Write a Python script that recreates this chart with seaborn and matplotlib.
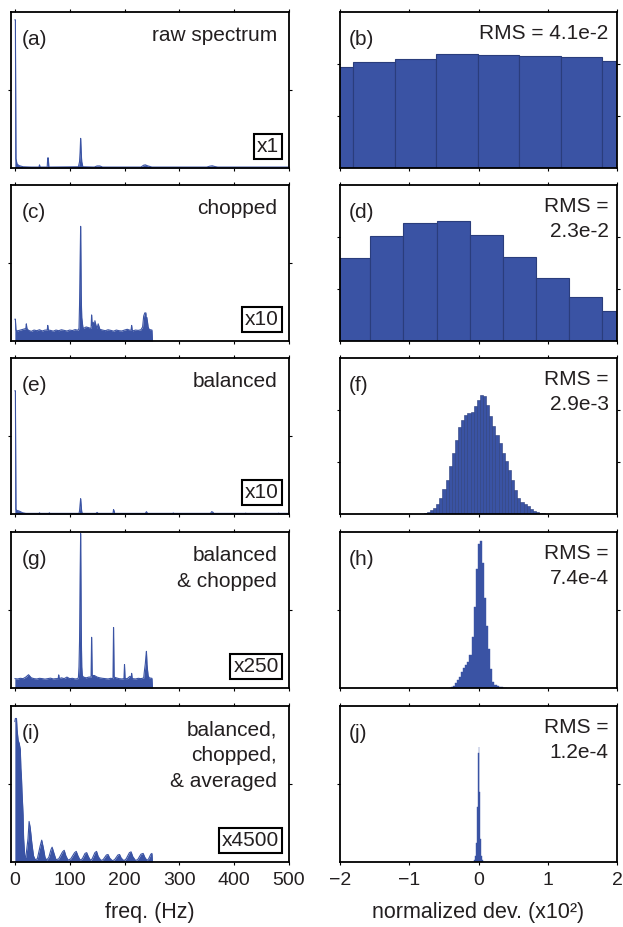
import numpy as np
import pandas as pd
import matplotlib
matplotlib.use("Agg")
import matplotlib.pyplot as plt
import seaborn as sns

BLUE = "#3a53a4"
EDGE = "#2a3d7c"
INK = "#231f20"

# ---- spectra (relative amplitude, 0..1 of panel height) ----
raw_freq = [0, 1, 2, 4, 8, 15, 30, 44, 45, 46, 59, 60, 61, 62, 116, 118, 119, 120, 121, 122, 124,
            145, 150, 155, 160, 230, 235, 238, 242, 250, 350, 356, 360, 364, 370, 500]
raw_amp = [0.95, 0.95, 0.06, 0.025, 0.015, 0.008, 0.006, 0.006, 0.02, 0.006, 0.006, 0.065, 0.065, 0.006,
           0.008, 0.04, 0.1, 0.19, 0.1, 0.04, 0.008, 0.006, 0.013, 0.013, 0.006, 0.006, 0.018, 0.02,
           0.014, 0.006, 0.006, 0.012, 0.014, 0.01, 0.006, 0.006]

bal_freq = [0, 1, 2, 4, 7, 10, 14, 20, 44, 45, 46, 62, 63, 64, 117, 118, 119, 120, 121, 122, 123,
            148, 150, 152, 179, 180, 181, 182, 238, 240, 242, 288, 289, 290, 357, 359, 361, 363,
            420, 421, 422, 480, 481, 482, 500]
bal_amp = [0.79, 0.79, 0.03, 0.022, 0.02, 0.015, 0.008, 0.004, 0.004, 0.008, 0.004, 0.004, 0.008, 0.004,
           0.004, 0.02, 0.06, 0.098, 0.05, 0.015, 0.004, 0.004, 0.01, 0.004, 0.004, 0.028, 0.02, 0.004,
           0.004, 0.015, 0.004, 0.004, 0.007, 0.004, 0.004, 0.015, 0.012, 0.004, 0.004, 0.006, 0.004,
           0.004, 0.006, 0.004, 0.004]

# noise floor of the chopped spectra, one value every 5 Hz from 0 to 250 Hz
floor_freq = list(range(0, 251, 5))
chop_floor = [0.07, 0.065, 0.07, 0.075, 0.08, 0.068, 0.062, 0.07, 0.066, 0.072,
              0.064, 0.07, 0.075, 0.068, 0.063, 0.07, 0.066, 0.072, 0.068, 0.064,
              0.07, 0.067, 0.073, 0.069, 0.075, 0.08, 0.09, 0.085, 0.1, 0.09,
              0.08, 0.075, 0.07, 0.066, 0.072, 0.068, 0.063, 0.07, 0.066, 0.064,
              0.07, 0.075, 0.069, 0.065, 0.07, 0.068, 0.072, 0.075, 0.08, 0.074,
              0.07]
chop_pk_freq = [0, 1, 2, 20, 21, 22, 59, 60, 61, 117, 118, 119, 120, 121, 122, 124,
                139, 140, 141, 143, 146, 148, 152, 212, 213, 214, 233, 235, 237, 239, 241, 243, 251]
chop_pk_amp = [0.14, 0.14, 0.07, 0.08, 0.11, 0.08, 0.07, 0.1, 0.07, 0.08, 0.23, 0.5, 0.735, 0.3, 0.15, 0.09,
               0.08, 0.167, 0.1, 0.12, 0.13, 0.1, 0.11, 0.07, 0.1, 0.07, 0.09, 0.16, 0.18, 0.18, 0.15, 0.09, 0.0]

bc_floor = [0.06, 0.058, 0.062, 0.06, 0.07, 0.085, 0.065, 0.06, 0.058, 0.062,
            0.06, 0.057, 0.06, 0.063, 0.058, 0.06, 0.075, 0.065, 0.06, 0.07,
            0.06, 0.062, 0.058, 0.06, 0.065, 0.07, 0.065, 0.07, 0.09, 0.08,
            0.07, 0.065, 0.062, 0.06, 0.058, 0.062, 0.06, 0.065, 0.06, 0.058,
            0.062, 0.06, 0.075, 0.06, 0.058, 0.062, 0.06, 0.064, 0.07, 0.065,
            0.062]
bc_pk_freq = [79, 80, 81, 116, 117, 118, 119, 120, 121, 122, 123, 139, 140, 141, 179, 180, 181,
              199, 200, 201, 212, 213, 214, 236, 238, 239, 240, 241, 243, 251]
bc_pk_amp = [0.06, 0.084, 0.06, 0.07, 0.136, 0.3, 0.7, 0.99, 0.4, 0.136, 0.08, 0.07, 0.325, 0.08,
             0.06, 0.388, 0.07, 0.06, 0.15, 0.06, 0.06, 0.094, 0.06, 0.1, 0.157, 0.2, 0.235, 0.15, 0.08, 0.0]

avg_freq = [0, 1, 3, 4, 6, 8, 10, 11, 12, 13, 14, 15, 16, 18, 20, 24, 26, 28, 31, 34, 37,
            41, 46, 49, 52, 55, 58, 62, 66, 68, 71, 75, 80, 87, 90, 93, 97, 102, 109, 112, 115, 119,
            123, 128, 131, 134, 138, 141, 146, 149, 152, 157, 161, 167, 170, 173, 178,
            182, 188, 191, 194, 199, 203, 209, 212, 215, 220, 224, 230, 234, 237, 241, 244, 248, 250, 251]
avg_amp = [0.9, 0.92, 0.92, 0.85, 0.78, 0.76, 0.72, 0.6, 0.55, 0.45, 0.38, 0.3, 0.15, 0.04, 0.03,
           0.15, 0.26, 0.22, 0.12, 0.04, 0.015, 0.02, 0.1, 0.14, 0.09, 0.03, 0.012,
           0.03, 0.08, 0.095, 0.06, 0.015, 0.02, 0.065, 0.075, 0.04, 0.012, 0.02, 0.06, 0.068, 0.04, 0.012,
           0.02, 0.055, 0.06, 0.035, 0.01, 0.02, 0.06, 0.068, 0.035, 0.01, 0.015, 0.045, 0.048, 0.025, 0.008,
           0.015, 0.045, 0.048, 0.025, 0.008, 0.02, 0.06, 0.065, 0.035, 0.01, 0.015, 0.05, 0.055, 0.03, 0.01,
           0.02, 0.05, 0.055, 0.0]

# ---- histograms of normalized deviation (x10^2) ----
b_edges = [-2.41, -1.81, -1.21, -0.61, -0.01, 0.59, 1.19, 1.79, 2.39]
b_heights = [0.647, 0.682, 0.697, 0.729, 0.723, 0.716, 0.712, 0.688]

d_edges = [-2.04, -1.562, -1.084, -0.606, -0.128, 0.35, 0.828, 1.306, 1.784, 2.262]
d_heights = [0.534, 0.672, 0.756, 0.771, 0.68, 0.538, 0.407, 0.284, 0.191]

f_start, f_width = -0.79, 0.045
f_heights = [0.006, 0.013, 0.025, 0.04, 0.062, 0.105, 0.16, 0.215, 0.31, 0.39, 0.475, 0.56, 0.605,
             0.632, 0.648, 0.655, 0.69, 0.73, 0.765, 0.755, 0.7, 0.63, 0.565, 0.505, 0.455, 0.39,
             0.34, 0.28, 0.215, 0.155, 0.105, 0.075, 0.062, 0.049, 0.035, 0.022, 0.014, 0.008,
             0.005, 0.003, 0.002, 0.001]

h_start, h_width = -0.43, 0.03
h_heights = [0.0, 0.006, 0.015, 0.03, 0.05, 0.07, 0.1, 0.13, 0.145, 0.165, 0.21, 0.33, 0.52, 0.76,
             0.92, 0.94, 0.8, 0.58, 0.4, 0.25, 0.12, 0.04, 0.02, 0.012, 0.008, 0.005, 0.003, 0.002]

j_start, j_width = -0.07, 0.014
j_heights = [0.01, 0.04, 0.12, 0.35, 0.7, 0.74, 0.45, 0.15, 0.04, 0.01]

left_titles = ["raw spectrum", "chopped", "balanced", "balanced\n& chopped",
               "balanced,\nchopped,\n& averaged"]
gains = ["x1", "x10", "x10", "x250", "x4500"]
rms_texts = ["RMS = 4.1e-2", "RMS =\n2.3e-2", "RMS =\n2.9e-3", "RMS =\n7.4e-4", "RMS =\n1.2e-4"]
left_letters = ["(a)", "(c)", "(e)", "(g)", "(i)"]
right_letters = ["(b)", "(d)", "(f)", "(h)", "(j)"]


def merged(floor_amp, pk_freq, pk_amp):
    d = dict(zip(floor_freq, floor_amp))
    d.update(zip(pk_freq, pk_amp))
    f = sorted(d)
    return f, [d[k] for k in f]


def uniform_edges(start, width, n):
    return [round(start + width * k, 6) for k in range(n + 1)]


def draw_spectrum(ax, freq, amp):
    sns.lineplot(x=freq, y=amp, ax=ax, color=BLUE, linewidth=0.8, errorbar=None)
    ax.fill_between(freq, amp, color=BLUE, linewidth=0)


def draw_hist(ax, edges, heights, lw, ec):
    centers = [(a + b) / 2 for a, b in zip(edges[:-1], edges[1:])]
    df = pd.DataFrame({"dev": centers, "count": heights})
    sns.histplot(data=df, x="dev", weights="count", bins=list(edges), ax=ax, color=BLUE,
                 edgecolor=ec, linewidth=lw, alpha=1)


sns.set_style("ticks")
plt.rcParams["font.family"] = ["Liberation Sans", "DejaVu Sans"]
plt.rcParams["axes.linewidth"] = 1.3

W, H = 623, 927
fig = plt.figure(figsize=(W / 100, H / 100), dpi=100)
row_tops = [12, 185, 358, 532, 706]
row_h = 156

spectra = [
    (raw_freq, raw_amp),
    merged(chop_floor, chop_pk_freq, chop_pk_amp),
    (bal_freq, bal_amp),
    merged(bc_floor, bc_pk_freq, bc_pk_amp),
    (avg_freq, avg_amp),
]
hists = [
    (b_edges, b_heights, 0.8, EDGE),
    (d_edges, d_heights, 0.8, EDGE),
    (uniform_edges(f_start, f_width, len(f_heights)), f_heights, 0.4, EDGE),
    (uniform_edges(h_start, h_width, len(h_heights)), h_heights, 0.3, BLUE),
    (uniform_edges(j_start, j_width, len(j_heights)), j_heights, 0.3, BLUE),
]
right_yticks = [[1 / 3, 2 / 3], [1 / 3, 2 / 3], [1 / 3, 2 / 3], [0.5], [0.5]]

for i, top in enumerate(row_tops):
    bottom = 1 - (top + row_h) / H
    axl = fig.add_axes([11 / W, bottom, 278 / W, row_h / H])
    axr = fig.add_axes([340 / W, bottom, 277 / W, row_h / H])

    draw_spectrum(axl, *spectra[i])
    axl.set_xlim(-7, 500)
    axl.set_xticks([0, 100, 200, 300, 400, 500])
    axl.set_yticks([0.5])

    draw_hist(axr, *hists[i])
    axr.set_xlim(-2, 2)
    axr.set_xticks([-2, -1, 0, 1, 2])
    axr.set_yticks(right_yticks[i])

    last = i == len(row_tops) - 1
    for ax in (axl, axr):
        ax.set_ylim(0, 1)
        ax.set_xlabel("")
        ax.set_ylabel("")
        for s in ax.spines.values():
            s.set_visible(True)
            s.set_color("black")
            s.set_linewidth(1.3)
        ax.tick_params(which="both", direction="out", length=2.5, width=0.8, color="black",
                       top=True, right=True, left=True, bottom=True,
                       labelleft=False, labelbottom=last, labelsize=14, labelcolor=INK, pad=5)

    axl.text(0.037, 0.885, left_letters[i], transform=axl.transAxes, ha="left", va="top",
             fontsize=15, color=INK)
    axl.text(0.957, 0.91, left_titles[i], transform=axl.transAxes, ha="right", va="top",
             fontsize=15, color=INK, linespacing=1.45)
    axl.text(0.964, 0.077, gains[i], transform=axl.transAxes, ha="right", va="bottom",
             fontsize=15, color=INK,
             bbox=dict(boxstyle="square,pad=0.15", fc="white", ec="black", lw=1.5))

    axr.text(0.033, 0.885, right_letters[i], transform=axr.transAxes, ha="left", va="top",
             fontsize=15, color=INK)
    axr.text(0.97, 0.925, rms_texts[i], transform=axr.transAxes, ha="right", va="top",
             fontsize=15, color=INK, linespacing=1.4)

    if last:
        axl.set_xlabel("freq. (Hz)", fontsize=15.5, color=INK, labelpad=9)
        axr.set_xlabel("normalized dev. (x10²)", fontsize=15.5, color=INK, labelpad=9)

fig.savefig("out.png", dpi=100)
